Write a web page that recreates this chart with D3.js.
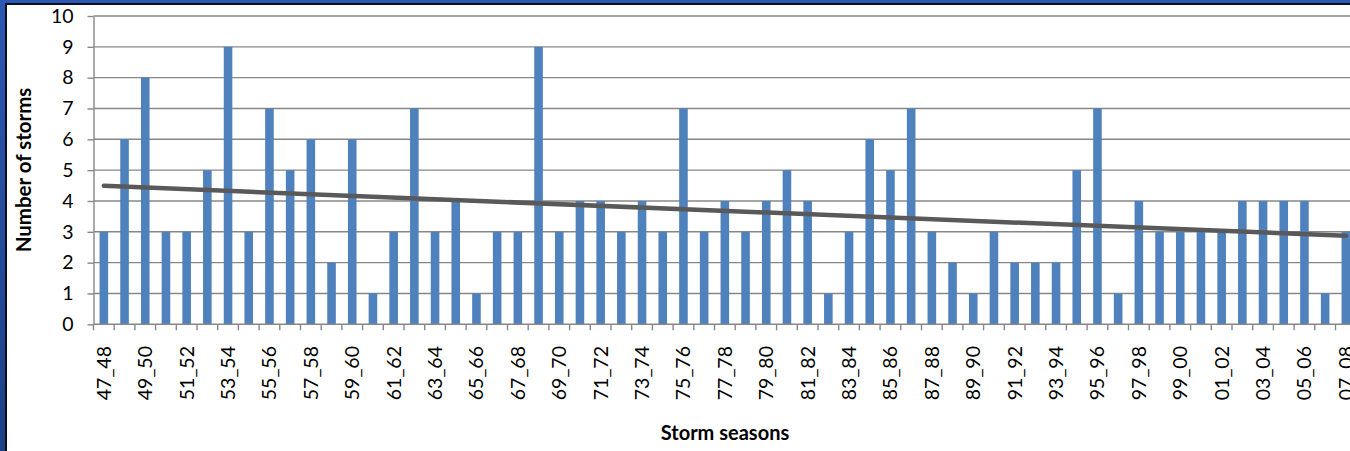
<!DOCTYPE html>
<html>
<head>
<meta charset="utf-8">
<script src="https://cdn.jsdelivr.net/npm/d3@7/dist/d3.min.js"></script>
<style>
  html, body { margin: 0; padding: 0; background: #fff; }
  svg { display: block; }
  text { font-family: Lato, "Liberation Sans", sans-serif; fill: #000; }
</style>
</head>
<body>
<svg id="chart" width="1350" height="451"></svg>
<script>
// Storm seasons, 1947/48 through 2007/08
const seasons = [
  "47_48","48_49","49_50","50_51","51_52","52_53","53_54","54_55","55_56","56_57",
  "57_58","58_59","59_60","60_61","61_62","62_63","63_64","64_65","65_66","66_67",
  "67_68","68_69","69_70","70_71","71_72","72_73","73_74","74_75","75_76","76_77",
  "77_78","78_79","79_80","80_81","81_82","82_83","83_84","84_85","85_86","86_87",
  "87_88","88_89","89_90","90_91","91_92","92_93","93_94","94_95","95_96","96_97",
  "97_98","98_99","99_00","00_01","01_02","02_03","03_04","04_05","05_06","06_07",
  "07_08"
];
// Number of storms per season
const storms = [
  3,6,8,3,3,5,9,3,7,5,
  6,2,6,1,3,7,3,4,1,3,
  3,9,3,4,4,3,4,3,7,3,
  4,3,4,5,4,1,3,6,5,7,
  3,2,1,3,2,2,2,5,7,1,
  4,3,3,3,3,4,4,4,4,1,
  3
];
// Linear trend: value at the first and at the last season
const trendSeasons = ["47_48", "07_08"];
const trendValues = [4.49, 2.87];
// Y axis ticks
const yTicks = [0,1,2,3,4,5,6,7,8,9,10];

const W = 1350, H = 451;
const svg = d3.select("#chart");

// Frame: blue band on the left and top with a dark inner edge
const defs = svg.append("defs");
const grad = defs.append("linearGradient").attr("id", "frameGrad")
  .attr("x1", 0).attr("y1", 0).attr("x2", 0).attr("y2", 1);
grad.append("stop").attr("offset", "0%").attr("stop-color", "#2b58b3");
grad.append("stop").attr("offset", "100%").attr("stop-color", "#1e3f88");
svg.append("rect").attr("x", 0).attr("y", 0).attr("width", W).attr("height", H)
  .attr("fill", "url(#frameGrad)");
svg.append("rect").attr("x", 5).attr("y", 3).attr("width", W).attr("height", H)
  .attr("fill", "#0b0f1a");
svg.append("rect").attr("x", 7).attr("y", 5).attr("width", W).attr("height", H)
  .attr("fill", "#ffffff");

const plotLeft = 93.5, step = 20.7;
const plotRight = plotLeft + step * seasons.length;
const plotTop = 16, plotBottom = 324.3;

const x = d3.scaleBand().domain(seasons)
  .range([plotLeft, plotRight])
  .paddingInner(0.585).paddingOuter(0.2925);
const y = d3.scaleLinear().domain([0, 10]).range([plotBottom, plotTop]);

const gridColor = "#878787";

// Horizontal gridlines
svg.append("g").selectAll("line").data(yTicks.filter(d => d > 0)).join("line")
  .attr("x1", plotLeft).attr("x2", W)
  .attr("y1", d => y(d)).attr("y2", d => y(d))
  .attr("stroke", gridColor).attr("stroke-width", 1.4);

// Y axis
const yAxis = svg.append("g").attr("transform", `translate(${plotLeft},0)`)
  .call(d3.axisLeft(y).tickValues(yTicks).tickSizeInner(6).tickSizeOuter(0).tickPadding(14));
yAxis.select(".domain").attr("stroke", gridColor).attr("stroke-width", 1.4);
yAxis.selectAll(".tick line").attr("stroke", gridColor).attr("stroke-width", 1.4);
yAxis.selectAll(".tick text")
  .style("font-family", "Lato, 'Liberation Sans', sans-serif")
  .style("font-size", "19.5px").attr("fill", "#000");

// Bars
svg.append("g").selectAll("rect").data(seasons).join("rect")
  .attr("x", d => x(d))
  .attr("width", x.bandwidth())
  .attr("y", (d, i) => y(storms[i]))
  .attr("height", (d, i) => y(0) - y(storms[i]))
  .attr("fill", "#4f81bd");

// X axis baseline and tick marks at category boundaries
const outer = x.step() * x.paddingOuter();
svg.append("line")
  .attr("x1", plotLeft).attr("x2", W)
  .attr("y1", plotBottom).attr("y2", plotBottom)
  .attr("stroke", gridColor).attr("stroke-width", 1.4);
svg.append("g").selectAll("line").data(seasons).join("line")
  .attr("x1", d => x(d) - outer).attr("x2", d => x(d) - outer)
  .attr("y1", plotBottom).attr("y2", plotBottom + 6)
  .attr("stroke", gridColor).attr("stroke-width", 1.4);

// Every other season is labelled
svg.append("g").selectAll("text").data(seasons.filter((d, i) => i % 2 === 0)).join("text")
  .attr("transform", d => `translate(${x(d) + x.bandwidth() / 2 + 7},346) rotate(-90)`)
  .attr("text-anchor", "end")
  .style("font-size", "19.5px")
  .text(d => d);

// Linear trend line
const trendLine = d3.line()
  .x(d => x(d[0]) + x.bandwidth() / 2)
  .y(d => y(d[1]));
svg.append("path")
  .datum(trendSeasons.map((s, i) => [s, trendValues[i]]))
  .attr("d", trendLine)
  .attr("fill", "none")
  .attr("stroke", "#595959")
  .attr("stroke-width", 4.5)
  .attr("stroke-linecap", "round");

// Axis titles
svg.append("text")
  .attr("transform", "translate(31,170) rotate(-90)")
  .attr("text-anchor", "middle")
  .style("font-size", "20.5px").style("font-weight", "bold")
  .text("Number of storms");
svg.append("text")
  .attr("x", 725).attr("y", 440)
  .attr("text-anchor", "middle")
  .style("font-size", "20px").style("font-weight", "bold")
  .text("Storm seasons");
</script>
</body>
</html>
